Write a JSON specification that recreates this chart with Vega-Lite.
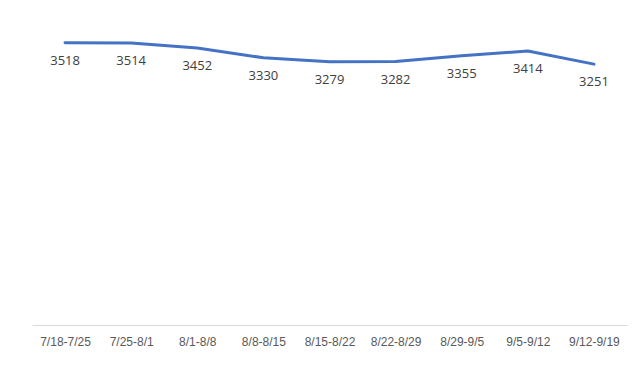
{
  "$schema": "https://vega.github.io/schema/vega-lite/v6.json",
  "width": 595,
  "height": 321,
  "autosize": {"type": "none"},
  "padding": {"left": 32, "top": 4, "right": 13, "bottom": 52},
  "background": "white",
  "config": {"view": {"stroke": null}},
  "data": {"values": [
    {"week": "7/18-7/25", "count": 3518},
    {"week": "7/25-8/1", "count": 3514},
    {"week": "8/1-8/8", "count": 3452},
    {"week": "8/8-8/15", "count": 3330},
    {"week": "8/15-8/22", "count": 3279},
    {"week": "8/22-8/29", "count": 3282},
    {"week": "8/29-9/5", "count": 3355},
    {"week": "9/5-9/12", "count": 3414},
    {"week": "9/12-9/19", "count": 3251}
  ]},
  "encoding": {
    "x": {"field": "week", "type": "ordinal", "sort": null, "scale": {"padding": 0.5},
      "axis": {"title": null, "labelAngle": 0, "ticks": false, "domainColor": "#d9d9d9", "domainWidth": 1,
        "labelColor": "#595959", "labelFontSize": 12, "labelFont": "Liberation Sans", "labelPadding": 11}},
    "y": {"field": "count", "type": "quantitative", "scale": {"domain": [0, 4000], "nice": false}, "axis": null}
  },
  "layer": [
    {"mark": {"type": "line", "color": "#4472C4", "strokeWidth": 3, "strokeJoin": "round", "strokeCap": "round"}},
    {"mark": {"type": "text", "dy": 18, "fontSize": 13, "font": "Open Sans", "color": "#404040"},
      "encoding": {"text": {"field": "count", "type": "quantitative"}}}
  ]
}
